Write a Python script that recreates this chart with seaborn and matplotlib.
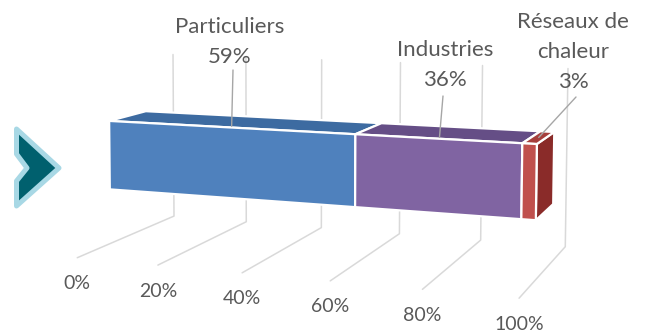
import numpy as np
import matplotlib.pyplot as plt
from matplotlib.patches import Polygon
import seaborn as sns

# data
categories = ["Particuliers", "Industries", "Réseaux de\nchaleur"]
shares = [59, 36, 3]
tick_values = [0, 20, 40, 60, 80, 100]
tick_labels = ["0%", "20%", "40%", "60%", "80%", "100%"]

# styles
front_colors = ["#4F81BD", "#8064A2", "#C0504D"]
top_colors = ["#3D6BA1", "#654E86", "#A63F3C"]
side_color = "#8A2B29"
grid_color = "#D9D9D9"
text_color = "#595959"

sns.set_style("white")
plt.rcParams["font.family"] = ["Lato", "DejaVu Sans"]

# camera: where the frame corners of the 3d box land in the picture
# (value %, depth 0=front..1=back, height 0=floor..1=wall top) -> pixel
frame_3d = [(0, 0, 0), (20, 0, 0), (40, 0, 0), (60, 0, 0), (80, 0, 0), (100, 0, 0),
            (0, 1, 0), (20, 1, 0), (40, 1, 0), (60, 1, 0), (80, 1, 0), (100, 1, 0),
            (0, 1, 1), (100, 1, 1)]
frame_px = [(77, 258), (158, 265), (242, 273), (331, 281), (422, 289), (519, 298),
            (174, 215), (246, 222), (322, 228), (399, 233), (481, 241), (565, 247),
            (173, 55), (568, 68)]

rows = []
for (X, Y, Z), (u, v) in zip(frame_3d, frame_px):
    X, u, v = X / 100, u / 100, v / 100
    rows.append([X, Y, Z, 1, 0, 0, 0, 0, -u * X, -u * Y, -u * Z, -u])
    rows.append([0, 0, 0, 0, X, Y, Z, 1, -v * X, -v * Y, -v * Z, -v])
_, _, vt = np.linalg.svd(np.array(rows))
M = vt[-1].reshape(3, 4)


def proj(x, y, z):
    p = M @ np.array([x / 100, y, z, 1.0])
    return p[0] / p[2] * 100, p[1] / p[2] * 100


def back_project(x, u, v):
    # depth/height of a picture point whose value coordinate is known
    X, u, v = x / 100, u / 100, v / 100
    A = np.array([[M[0, 1] - u * M[2, 1], M[0, 2] - u * M[2, 2]],
                  [M[1, 1] - v * M[2, 1], M[1, 2] - v * M[2, 2]]])
    b = np.array([u * (M[2, 0] * X + M[2, 3]) - M[0, 0] * X - M[0, 3],
                  v * (M[2, 0] * X + M[2, 3]) - M[1, 0] * X - M[1, 3]])
    return np.linalg.solve(A, b)


def depth_at(x, z, v):
    # depth of a picture row v for known value x and height z
    X, v = x / 100, v / 100
    num = M[1, 0] * X + M[1, 2] * z + M[1, 3] - v * (M[2, 0] * X + M[2, 2] * z + M[2, 3])
    return num / (v * M[2, 1] - M[1, 1])


# bar box inside the chart (from its corners in the picture)
fbl = back_project(0, 106, 190)
fbr = back_project(100, 538, 219)
ftl = back_project(0, 106, 122)
ftr = back_project(100, 538, 143)
y0 = np.mean([fbl[0], fbr[0], ftl[0], ftr[0]])
z0 = np.mean([fbl[1], fbr[1]])
z1 = np.mean([ftl[1], ftr[1]])
y1 = np.mean([depth_at(0, z1, 112), depth_at(100, z1, 131)])

fig = plt.figure(figsize=(6.47, 3.33), dpi=100)
ax = fig.add_axes([0, 0, 1, 1])
ax.set_xlim(0, 647)
ax.set_ylim(333, 0)
ax.axis("off")

# gridlines: floor + back wall
for t, lab in zip(tick_values, tick_labels):
    pts = [proj(t, 0, 0), proj(t, 1, 0), proj(t, 1, 1)]
    ax.plot([p[0] for p in pts], [p[1] for p in pts], color=grid_color, lw=1.1, zorder=1)
    fx, fy = proj(t, 0, 0)
    ax.text(fx, fy + 26, lab, ha="center", va="center", fontsize=14, color=text_color)

# stacked 100% bar
total = sum(shares)
edges = np.concatenate([[0], np.cumsum(shares)]) / total * 100
for i in range(len(shares)):
    a, b = edges[i], edges[i + 1]
    front = [proj(a, y0, z0), proj(b, y0, z0), proj(b, y0, z1), proj(a, y0, z1)]
    top = [proj(a, y0, z1), proj(b, y0, z1), proj(b, y1, z1), proj(a, y1, z1)]
    side = [proj(b, y0, z0), proj(b, y1, z0), proj(b, y1, z1), proj(b, y0, z1)]
    ax.add_patch(Polygon(side, closed=True, fc=side_color, ec="white", lw=1.6, zorder=2))
    ax.add_patch(Polygon(top, closed=True, fc=top_colors[i], ec="white", lw=1.6, zorder=2))
    ax.add_patch(Polygon(front, closed=True, fc=front_colors[i], ec="white", lw=1.6, zorder=2))

# data labels with leader lines
label_pos = [(230, 42), (445, 65), (573, 52)]
leader_top = [(233, 70), (443, 96), (576, 97)]
leader_depth = [0.1, 0.1, 0.5]
for i, cat in enumerate(categories):
    mid = (edges[i] + edges[i + 1]) / 2
    ex, ey = proj(mid, y0 + leader_depth[i] * (y1 - y0), z1)
    lx, ly = leader_top[i]
    ax.plot([lx, ex], [ly, ey], color="#A6A6A6", lw=1, zorder=3)
    ax.text(label_pos[i][0], label_pos[i][1], f"{cat}\n{shares[i]}%", ha="center", va="center",
            fontsize=16, color=text_color, linespacing=1.65, zorder=4)

# chevron on the left
chevron = [(16.5, 129), (59, 168), (16.5, 206), (16.5, 181), (27, 168), (16.5, 154)]
ax.add_patch(Polygon(chevron, closed=True, fc="#00606E", ec="#A8D8E5", lw=3.6,
                     joinstyle="round", zorder=2))

fig.savefig("out.png", dpi=100)
